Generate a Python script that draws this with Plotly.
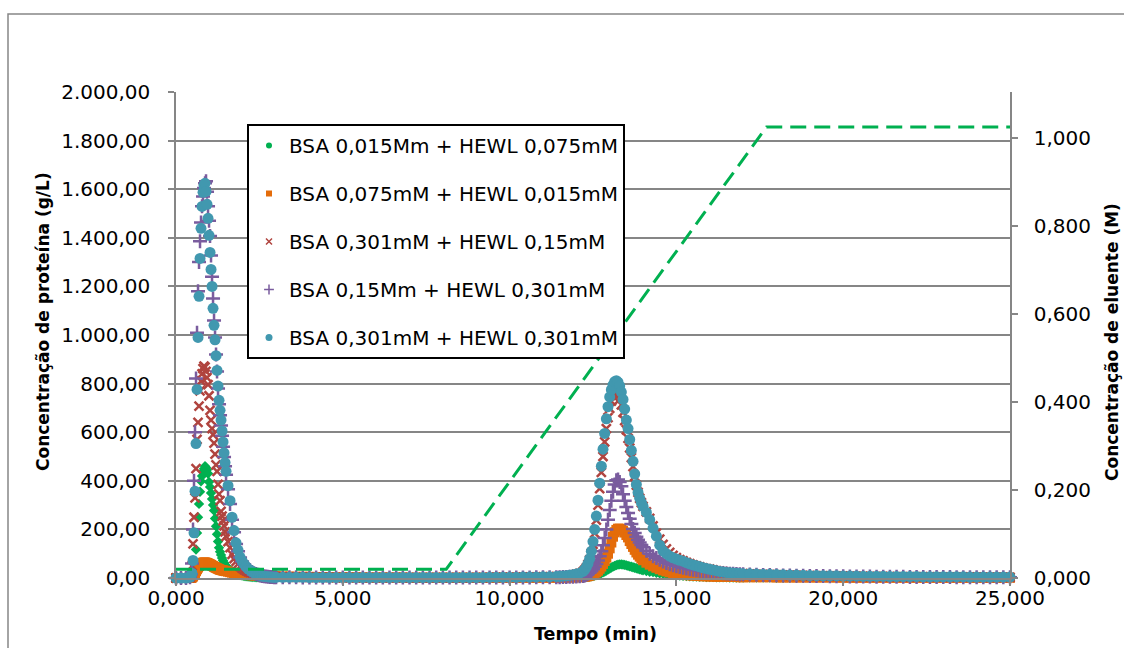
import plotly.graph_objects as go

# ---------------- data ----------------
# time (min)
t = [0.0, 0.15, 0.3, 0.42,
     0.45, 0.48, 0.51, 0.54, 0.57, 0.60, 0.63, 0.66, 0.69, 0.72, 0.75, 0.78,
     0.81, 0.84, 0.87, 0.90, 0.93, 0.96, 0.99, 1.02, 1.05, 1.08, 1.11, 1.14,
     1.17, 1.20, 1.23, 1.26, 1.29, 1.32, 1.35, 1.38, 1.41, 1.44, 1.47, 1.50,
     1.56, 1.62, 1.68, 1.74, 1.80, 1.86, 1.92, 1.98, 2.04, 2.10, 2.16, 2.22,
     2.28, 2.34, 2.40, 2.46, 2.52, 2.58, 2.64, 2.70, 2.76, 2.82, 2.88, 2.94, 3.00,
     3.2, 3.4, 3.6, 3.8, 4.0, 4.2, 4.4, 4.6, 4.8, 5.0, 5.2, 5.4, 5.6, 5.8,
     6.0, 6.2, 6.4, 6.6, 6.8, 7.0, 7.2, 7.4, 7.6, 7.8, 8.0, 8.2, 8.4, 8.6,
     8.8, 9.0, 9.2, 9.4, 9.6, 9.8, 10.0, 10.2, 10.4, 10.6, 10.8, 11.0, 11.2, 11.4,
     11.5, 11.6, 11.7, 11.8, 11.9, 12.0, 12.1, 12.2,
     12.25, 12.30, 12.35, 12.40, 12.45, 12.50, 12.55, 12.60, 12.65, 12.70,
     12.75, 12.80, 12.85, 12.90, 12.95, 13.00, 13.05, 13.10, 13.15, 13.20,
     13.25, 13.30, 13.35, 13.40, 13.45, 13.50, 13.55, 13.60, 13.65, 13.70,
     13.75, 13.80, 13.85, 13.90, 13.95, 14.00,
     14.1, 14.2, 14.3, 14.4, 14.5, 14.6, 14.7, 14.8, 14.9, 15.0, 15.1, 15.2,
     15.3, 15.4, 15.5, 15.6, 15.7, 15.8, 15.9, 16.0, 16.1, 16.2, 16.3, 16.4,
     16.5, 16.6, 16.7, 16.8, 16.9, 17.0,
     17.2, 17.4, 17.6, 17.8, 18.0, 18.2, 18.4, 18.6, 18.8, 19.0, 19.2, 19.4,
     19.6, 19.8, 20.0, 20.2, 20.4, 20.6, 20.8, 21.0, 21.2, 21.4, 21.6, 21.8,
     22.0, 22.2, 22.4, 22.6, 22.8, 23.0, 23.2, 23.4, 23.6, 23.8, 24.0, 24.2,
     24.4, 24.6, 24.8, 25.0]

# BSA 0,015Mm + HEWL 0,075mM  (g/L)
s_green = [0, 0, 0, 1,
           2, 5, 10, 22, 55, 117, 185, 250, 305, 355, 398, 420, 438, 450, 460,
           455, 445, 430, 395, 375, 350, 325, 300, 278, 245, 213, 180, 150, 125,
           108, 95, 82, 72, 63, 55, 48,
           40, 33, 27, 22, 18, 15, 12, 10, 8, 7, 6, 5, 4, 4, 3, 3, 3, 2, 2, 2,
           2, 2, 1, 1, 1,
           1, 1, 1, 1, 1, 1, 1, 1, 1, 1, 1, 1, 1, 1, 1, 1, 1, 1, 1, 1, 1,
           1, 1, 1, 1, 1, 1, 1, 1, 1, 1, 1, 1, 1, 1, 1, 1, 1, 1, 1, 1, 1,
           1, 1, 1, 1, 2, 2, 2, 3,
           3, 4, 5, 6, 7, 8, 10, 12, 14, 17, 20, 23, 27, 31, 35, 39, 43, 47, 50,
           53, 55, 56, 56, 55, 54, 52, 50, 48, 46, 44, 42, 40, 38, 36, 34, 32,
           29, 26, 24, 21, 19, 17, 15, 13, 12, 11, 10, 9, 8, 7, 6, 6, 5, 5, 4,
           4, 4, 3, 3, 3, 3, 2, 2, 2, 2, 2,
           2, 2, 2, 2, 1, 1, 1, 1, 1, 1, 1, 1, 1, 1, 1, 1, 1, 1, 1, 1,
           1, 1, 1, 1, 1, 1, 1, 1, 1, 1, 1, 1, 1, 1, 1, 1, 1, 1, 1, 1]

# BSA 0,075mM + HEWL 0,015mM
s_orange = [0, 0, 0, 0,
            0, 2, 6, 12, 20, 28, 36, 43, 49, 54, 58, 61, 63, 64, 64, 63, 62, 60,
            58, 56, 54, 51, 49, 46, 44, 42, 40, 38, 36, 34, 33, 32, 31, 30, 29, 28,
            26, 24, 22, 20, 19, 17, 16, 15, 14, 13, 12, 12, 11, 11, 10, 10, 9, 9,
            9, 8, 8, 8, 7, 7, 7,
            6, 6, 5, 5, 5, 4, 4, 4, 3, 3, 3, 3, 2, 2, 2, 2, 2, 2, 2, 1, 1,
            1, 1, 1, 1, 1, 1, 1, 1, 1, 1, 1, 1, 1, 1, 1, 1, 1, 1, 1, 1, 1,
            1, 1, 2, 2, 2, 3, 3, 4,
            5, 6, 8, 10, 12, 15, 19, 24, 30, 38, 47, 58, 70, 84, 100, 122, 146,
            170, 188, 198, 203, 203, 201, 195, 187, 177, 167, 152, 140, 128, 116,
            105, 96, 88, 80, 73,
            63, 55, 48, 42, 36, 31, 27, 23, 20, 17, 15, 13, 12, 11, 10, 9, 8, 7,
            7, 6, 6, 5, 5, 5, 4, 4, 4, 4, 3, 3,
            3, 3, 3, 3, 2, 2, 2, 2, 2, 2, 2, 2, 2, 2, 1, 1, 1, 1, 1, 1,
            1, 1, 1, 1, 1, 1, 1, 1, 1, 1, 1, 1, 1, 1, 1, 1, 1, 1, 1, 1]

# BSA 0,301mM + HEWL 0,15mM
s_red = [0, 0, 0, 2,
         10, 50, 140, 250, 330, 450, 570, 640, 707, 770, 810, 840, 862, 872, 868,
         850, 825, 796, 750, 690, 650, 615, 590, 555, 510, 466, 439, 385, 345, 318,
         274, 255, 235, 215, 190, 171,
         150, 125, 97, 80, 68, 58, 48, 41, 35, 30, 26, 23, 21, 18, 16, 14, 12, 11,
         10, 9, 8, 7, 6, 6, 5,
         5, 4, 4, 4, 3, 3, 3, 3, 2, 2, 2, 2, 2, 2, 2, 2, 2, 2, 2, 2, 2,
         2, 2, 2, 2, 2, 2, 2, 2, 2, 2, 3, 3, 3, 3, 3, 4, 4, 4, 5, 5, 6,
         7, 8, 9, 10, 12, 15, 19, 25,
         32, 42, 56, 75, 102, 138, 185, 238, 300, 368, 435, 500, 560, 615, 660,
         698, 728, 748, 758, 760, 752, 735, 712, 682, 648, 610, 575, 535, 495, 458,
         418, 382, 352, 328, 310, 295,
         272, 245, 215, 185, 160, 138, 120, 105, 93, 84, 76, 70, 64, 59, 54, 50,
         46, 42, 39, 36, 33, 30, 28, 26, 24, 22, 21, 20, 19, 18,
         16, 15, 14, 14, 13, 12, 11, 11, 10, 10, 9, 9, 8, 8, 8, 7, 7, 7, 6, 6,
         6, 6, 5, 5, 5, 5, 5, 5, 4, 4, 4, 4, 4, 4, 4, 3, 3, 3, 3, 3]

# BSA 0,15Mm + HEWL 0,301mM
s_purple = [0, 0, 0, 3,
            15, 60, 200, 400, 600, 821, 1009, 1180, 1300, 1386, 1463, 1530, 1570,
            1605, 1625, 1633, 1590, 1530, 1470, 1407, 1327, 1240, 1150, 1060, 990,
            920, 850, 780, 715, 670, 628, 585, 540, 498, 460, 425,
            365, 305, 240, 188, 140, 110, 84, 68, 56, 45, 37, 31, 25, 20, 16, 13,
            10, 8, 7, 6, 5, 4, 4, 3, 3,
            3, 3, 3, 2, 2, 2, 2, 2, 2, 2, 2, 2, 2, 2, 2, 2, 2, 2, 2, 2, 2,
            2, 2, 2, 2, 2, 2, 2, 2, 2, 2, 2, 2, 2, 2, 2, 2, 2, 3, 3, 3, 3,
            3, 4, 4, 5, 5, 6, 7, 8,
            10, 13, 17, 22, 28, 36, 46, 58, 72, 90, 110, 135, 165, 200, 240, 280,
            318, 355, 385, 402, 405, 395, 378, 345, 318, 292, 268, 244, 222, 202,
            185, 170, 157, 146, 136, 127,
            112, 100, 90, 82, 75, 68, 62, 57, 52, 48, 45, 42, 39, 36, 34, 32, 30,
            28, 26, 25, 23, 22, 21, 20, 19, 18, 17, 16, 15, 15,
            14, 13, 12, 12, 11, 10, 10, 9, 9, 8, 8, 8, 7, 7, 7, 6, 6, 6, 6, 5,
            5, 5, 5, 5, 4, 4, 4, 4, 4, 4, 4, 3, 3, 3, 3, 3, 3, 3, 3, 3]

# BSA 0,301mM + HEWL 0,301mM
s_teal = [0, 0, 0, 3,
          8, 20, 72, 186, 357, 553, 776, 990, 1159, 1315, 1439, 1529, 1587, 1615,
          1624, 1591, 1538, 1480, 1410, 1340, 1270, 1200, 1110, 1040, 980, 915,
          854, 790, 731, 690, 650, 605, 560, 515, 475, 439,
          380, 318, 250, 195, 145, 115, 86, 70, 58, 47, 38, 32, 26, 21, 17, 14,
          11, 8, 7, 6, 5, 4, 4, 3, 3,
          3, 3, 3, 3, 2, 2, 2, 2, 2, 2, 2, 2, 2, 2, 2, 2, 2, 2, 2, 2, 2,
          2, 2, 2, 2, 2, 2, 2, 2, 2, 2, 3, 3, 3, 3, 3, 4, 4, 4, 5, 5, 6,
          7, 8, 9, 11, 13, 16, 20, 27,
          35, 45, 60, 80, 110, 150, 200, 255, 320, 390, 460, 530, 595, 655, 705,
          745, 775, 795, 808, 812, 806, 790, 765, 735, 695, 650, 615, 570, 525,
          480, 428, 385, 352, 328, 310, 295,
          270, 240, 205, 172, 135, 112, 100, 90, 83, 78, 73, 69, 63, 58, 54, 50,
          46, 42, 39, 36, 33, 30, 27, 25, 23, 22, 21, 20, 19, 18,
          17, 16, 15, 15, 14, 13, 12, 12, 11, 10, 10, 9, 9, 9, 8, 8, 8, 7, 7, 7,
          7, 6, 6, 6, 6, 6, 5, 5, 5, 5, 5, 5, 5, 4, 4, 4, 4, 4, 4, 4]

# eluent concentration (M), secondary axis
elu_t = [0.0, 8.1, 17.7, 25.0]
elu_c = [0.02, 0.02, 1.025, 1.025]

names = ["BSA 0,015Mm + HEWL 0,075mM",
         "BSA 0,075mM + HEWL 0,015mM",
         "BSA 0,301mM + HEWL 0,15mM",
         "BSA 0,15Mm + HEWL 0,301mM",
         "BSA 0,301mM + HEWL 0,301mM"]

x_ticks = [0, 5, 10, 15, 20, 25]
y_ticks = [0, 200, 400, 600, 800, 1000, 1200, 1400, 1600, 1800, 2000]
y2_ticks = [0, 0.2, 0.4, 0.6, 0.8, 1.0]

for s in (s_green, s_orange, s_red, s_purple, s_teal):
    assert len(s) == len(t), (len(s), len(t))

# ---------------- styles ----------------
styles = [
    dict(color="#00B050", symbol="diamond", size=8, lw=0, leg_symbol="circle", leg_size=6),
    dict(color="#E46C0A", symbol="square", size=10, lw=0, leg_symbol="square", leg_size=6),
    dict(color="#B0443F", symbol="x-thin", size=9, lw=2.5, leg_symbol="x-thin", leg_size=6),
    dict(color="#7A5C9E", symbol="cross-thin", size=10, lw=2.5, leg_symbol="cross-thin", leg_size=7),
    dict(color="#4198AF", symbol="circle", size=11, lw=0, leg_symbol="circle", leg_size=7),
]
series = [s_green, s_orange, s_red, s_purple, s_teal]

fig = go.Figure()
for vals, st in zip(series, styles):
    fig.add_trace(go.Scatter(
        x=t, y=vals, mode="markers", showlegend=False, cliponaxis=False,
        hoverinfo="skip",
        marker=dict(symbol=st["symbol"], size=st["size"], color=st["color"],
                    line=dict(width=st["lw"], color=st["color"]))))

fig.add_trace(go.Scatter(
    x=elu_t, y=elu_c, mode="lines", yaxis="y2", showlegend=False,
    hoverinfo="skip", line=dict(color="#00B050", width=3, dash="16px,8px")))

# legend entries
for i, (nm, st) in enumerate(zip(names, styles)):
    fig.add_trace(go.Scatter(
        x=[None], y=[None], mode="markers", name=nm, legendgroup="g%d" % i,
        marker=dict(symbol=st["leg_symbol"], size=st["leg_size"], color=st["color"],
                    line=dict(width=1.5 if st["lw"] else 0, color=st["color"]))))

GRAY = "#868686"
FONT = "DejaVu Sans"

fig.update_layout(
    width=1124, height=648,
    margin=dict(l=176, r=114, t=92, b=70),
    paper_bgcolor="white", plot_bgcolor="white",
    separators=",.",
    font=dict(family=FONT, size=20, color="black"),
    hovermode=False,
    legend=dict(x=(247 - 176) / 834, y=(578 - 124) / 486, xanchor="left", yanchor="top",
                bordercolor="black", borderwidth=2, bgcolor="white",
                font=dict(family=FONT, size=20, color="black"),
                traceorder="grouped", tracegroupgap=19),
    xaxis=dict(range=[0, 25], tickvals=x_ticks, tickformat=".3f",
               ticks="outside", ticklen=6, tickwidth=1.5, tickcolor=GRAY,
               showline=True, linecolor=GRAY, linewidth=1.5,
               showgrid=False, zeroline=False, ticklabelstandoff=-5,
               tickfont=dict(family=FONT, size=20, color="black")),
    yaxis=dict(range=[0, 2000], tickvals=y_ticks, tickformat=",.2f",
               ticks="outside", ticklen=6, tickwidth=1.5, tickcolor=GRAY,
               showline=True, linecolor=GRAY, linewidth=1.5,
               showgrid=True, gridcolor=GRAY, gridwidth=1.5, zeroline=False,
               ticklabelstandoff=14,
               tickfont=dict(family=FONT, size=20, color="black")),
    yaxis2=dict(range=[0, 1.1045], overlaying="y", side="right",
                tickvals=y2_ticks, tickformat=".3f",
                ticks="outside", ticklen=6, tickwidth=1.5, tickcolor=GRAY,
                showline=True, linecolor=GRAY, linewidth=1.5,
                showgrid=False, zeroline=False, ticklabelstandoff=12,
                tickfont=dict(family=FONT, size=20, color="black")),
    shapes=[dict(type="rect", xref="paper", yref="paper",
                 x0=(8 - 176) / 834, x1=(1135 - 176) / 834,
                 y0=(578 - 665) / 486, y1=(578 - 14) / 486,
                 line=dict(color=GRAY, width=1.5), layer="below")],
    annotations=[
        dict(text="<b>Concentração de proteína (g/L)</b>", textangle=-90,
             xref="paper", yref="paper", x=(43 - 176) / 834, y=(578 - 322) / 486,
             xanchor="center", yanchor="middle", showarrow=False,
             font=dict(family=FONT, size=17, color="black")),
        dict(text="<b>Concentração de eluente (M)</b>", textangle=-90,
             xref="paper", yref="paper", x=(1112 - 176) / 834, y=(578 - 342) / 486,
             xanchor="center", yanchor="middle", showarrow=False,
             font=dict(family=FONT, size=17, color="black")),
        dict(text="<b>Tempo (min)</b>",
             xref="paper", yref="paper", x=(595 - 176) / 834, y=(578 - 634) / 486,
             xanchor="center", yanchor="middle", showarrow=False,
             font=dict(family=FONT, size=17.5, color="black")),
    ],
)

fig.write_html("out.html", config={"displayModeBar": False})
